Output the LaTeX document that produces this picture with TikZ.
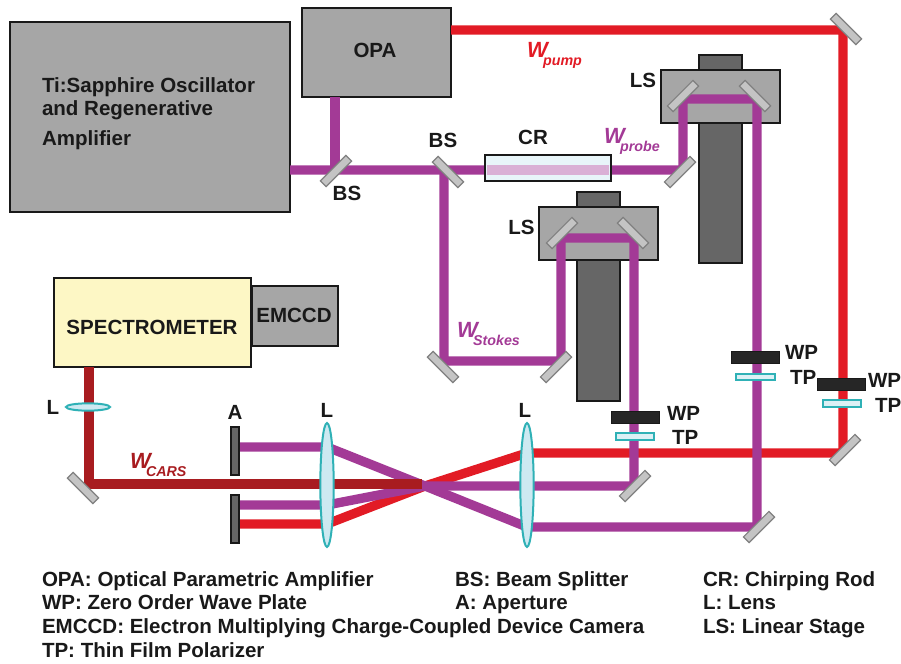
\documentclass[tikz,border=0pt]{standalone}
\usepackage{fontspec}
\setmainfont{Liberation Sans}
\usetikzlibrary{shapes.geometric}
\definecolor{pumpred}{HTML}{E21B25}
\definecolor{carsred}{HTML}{A81C20}
\definecolor{beampurple}{HTML}{A33A96}
\definecolor{boxgray}{HTML}{A6A6A6}
\definecolor{stagedark}{HTML}{666666}
\definecolor{mirrorgray}{HTML}{C4C4C4}
\definecolor{lensfill}{HTML}{CDE9F1}
\definecolor{lensedge}{HTML}{2FB1B6}
\definecolor{specyellow}{HTML}{FDF7C5}
\newcommand{\wsub}[1]{W\kern-3.5pt\lower 6.5pt\hbox{\fontsize{10.7}{12}\selectfont #1}}
\tikzstyle{every node}=[inner sep=0pt,outer sep=0pt,font=\fontsize{15.4}{18}\selectfont\bfseries,text=black!90]
\tikzstyle{box}=[draw=black!90,line width=1.5pt,shape=rectangle]
\tikzstyle{graybox}=[box,fill=boxgray]
\tikzstyle{darkbox}=[box,fill=stagedark]
\tikzstyle{mirror}=[shape=rectangle,draw=black!50,fill=mirrorgray,line width=0.9pt,minimum width=27pt,minimum height=6pt]
\tikzstyle{plate}=[shape=rectangle,draw=black!90,fill=black!85,line width=0.75pt,minimum width=36pt,minimum height=9pt]
\tikzstyle{polar}=[shape=rectangle,draw=lensedge,fill=lensfill!70,line width=1.5pt,minimum width=29pt,minimum height=5pt]
\tikzstyle{lens}=[shape=ellipse,draw=lensedge,fill=lensfill,line width=1.5pt,minimum width=10pt,minimum height=93pt]
\tikzstyle{smalllens}=[lens,minimum width=33pt,minimum height=5.5pt]
\tikzstyle{stop}=[box,fill=stagedark,line width=1pt,minimum width=6pt,minimum height=36pt]
\tikzstyle{wlabel}=[anchor=base west,font=\fontsize{16.5}{18}\selectfont\bfseries\itshape]
\tikzstyle{tag}=[anchor=base west]
\tikzstyle{beam}=[line width=7pt,line join=bevel]
\tikzstyle{pump}=[beam,draw=pumpred]
\tikzstyle{probe}=[beam,draw=beampurple]
\tikzstyle{cars}=[beam,draw=carsred]
\begin{document}
\begin{tikzpicture}[x=0.75pt,y=-0.75pt]
	\useasboundingbox (0,0) rectangle (901,664);

	\node[graybox,minimum width=210pt,minimum height=142.5pt] (laser) at (150,117) {};
	\node[graybox,minimum width=111.75pt,minimum height=66.75pt] (opa) at (376.5,52.5) {};
	\node[box,fill=specyellow,minimum width=147.75pt,minimum height=66.75pt] (spec) at (152.5,322.5) {};
	\node[graybox,minimum width=64.5pt,minimum height=45pt] (emccd) at (295,316) {};
	\node[darkbox,minimum width=32.25pt,minimum height=11.25pt] (stageAtop) at (720.5,62.5) {};
	\node[darkbox,minimum width=32.25pt,minimum height=105pt] (stageArail) at (720.5,193) {};
	\node[graybox,minimum width=89.25pt,minimum height=39.75pt] (stageA) at (720.5,96.5) {};
	\node[darkbox,minimum width=32.25pt,minimum height=11.25pt] (stageBtop) at (598.5,199.5) {};
	\node[darkbox,minimum width=32.25pt,minimum height=105.75pt] (stageBrail) at (598.5,330.5) {};
	\node[graybox,minimum width=89.25pt,minimum height=39.75pt] (stageB) at (598.5,233.5) {};

	\coordinate (p1) at (843,30);
	\coordinate (p2) at (843,453);
	\coordinate (p3) at (527,453);
	\coordinate (sA) at (335,170);
	\coordinate (sB) at (444,170);
	\coordinate (sC) at (444,361);
	\coordinate (sD) at (561,361);
	\coordinate (sE) at (561,238);
	\coordinate (sF) at (634,238);
	\coordinate (sG) at (634,486);
	\coordinate (sH) at (527,486);
	\coordinate (rA) at (683,170);
	\coordinate (rB) at (683,99);
	\coordinate (rC) at (757,99);
	\coordinate (rD) at (757,527);
	\coordinate (rE) at (527,527);
	\coordinate (focus) at (425,486);
	\coordinate (cA) at (89,484);
	\coordinate (cB) at (422,484);
	\coordinate (lA) at (327,447);
	\coordinate (lB) at (327,505);
	\coordinate (lC) at (327,524);
	\coordinate (aA) at (239,447);
	\coordinate (aB) at (239,505);
	\coordinate (aC) at (239,524);

	\draw[pump] (opa.east |- p1) -- (p1) -- (p2) -- (p3) -- (focus) -- (lC) -- (aC);
	\draw[probe] (laser.east |- sA) -- (rA) -- (rB) -- (rC) -- (rD) -- (rE) -- (focus) -- (lA) -- (aA);
	\draw[probe] (opa.south -| sA) -- (sA);
	\draw[probe] (sB) -- (sC) -- (sD) -- (sE) -- (sF) -- (sG) -- (sH) -- (focus) -- (lB) -- (aB);
	\draw[cars] (spec.south -| cA) -- (cA) -- (cB);

	\node[lens] (lensA) at (327,485) {};
	\node[lens] (lensB) at (527,485) {};
	\node[smalllens] (lensC) at (88,407) {};

	\node[box,fill=lensfill!45,minimum width=94.5pt,minimum height=19.5pt] (rod) at (547.5,167.5) {};
	\node[shape=rectangle,fill=beampurple!40,minimum width=91pt,minimum height=7pt] (rodbeam) at (548,170) {};

	\node[mirror,rotate=-45] (mirA) at (846,29) {};
	\node[mirror,rotate=45] (mirB) at (845,450) {};
	\node[mirror,rotate=45] (bsA) at (336,171) {};
	\node[mirror,rotate=-45] (bsB) at (448,172) {};
	\node[mirror,rotate=45] (mirC) at (680,172) {};
	\node[mirror,rotate=45] (mirD) at (683,96) {};
	\node[mirror,rotate=-45] (mirE) at (755,96) {};
	\node[mirror,rotate=45] (mirF) at (562,233) {};
	\node[mirror,rotate=-45] (mirG) at (633,233) {};
	\node[mirror,rotate=-45] (mirH) at (443,367) {};
	\node[mirror,rotate=45] (mirI) at (556,367) {};
	\node[mirror,rotate=45] (mirJ) at (635,486) {};
	\node[mirror,rotate=45] (mirK) at (759,527) {};
	\node[mirror,rotate=-45] (mirL) at (83,488) {};
	\node[stop] (stopA) at (235,451) {};
	\node[stop] (stopB) at (235,519) {};

	\node[plate] (wpA) at (635.5,417) {};
	\node[polar] (tpA) at (635,436.5) {};
	\node[plate] (wpB) at (755.5,357.5) {};
	\node[polar] (tpB) at (755.5,377) {};
	\node[plate] (wpC) at (841.5,384) {};
	\node[polar] (tpC) at (842,403.5) {};

	\node (opatag) at (375,50) {OPA};
	\node (spectag) at (152,327) {SPECTROMETER};
	\node (emccdtag) at (294,315) {EMCCD};
	\node[tag] (wpAtag) at (667,420) {WP};
	\node[tag] (tpAtag) at (672,444) {TP};
	\node[tag] (wpBtag) at (785,359) {WP};
	\node[tag] (tpBtag) at (790,384) {TP};
	\node[tag] (wpCtag) at (868,387) {WP};
	\node[tag] (tpCtag) at (875,412) {TP};
	\node (rodtag) at (533,137) {CR};
	\node (bsAtag) at (347,193) {BS};
	\node (bsBtag) at (443,140) {BS};
	\node (stageAtag) at (643,80) {LS};
	\node (stageBtag) at (521.5,227) {LS};
	\node (lensAtag) at (327,410) {L};
	\node (lensBtag) at (525,410) {L};
	\node (lensCtag) at (53,407) {L};
	\node (stoptag) at (235,412) {A};

	\node[wlabel,text=pumpred] (wpump) at (527,57) {\wsub{pump}};
	\node[wlabel,text=beampurple] (wprobe) at (604,143) {\wsub{probe}};
	\node[wlabel,text=beampurple] (wstokes) at (457,337) {\wsub{Stokes}};
	\node[wlabel,text=carsred] (wcars) at (130,468) {\wsub{CARS}};

	\node[tag] (laserA) at (42,92) {Ti:Sapphire Oscillator};
	\node[tag] (laserB) at (42,115) {and Regenerative};
	\node[tag] (laserC) at (42,145) {Amplifier};

	\node[tag] (keyA) at (42,586) {OPA: Optical Parametric Amplifier};
	\node[tag] (keyB) at (42,609) {WP: Zero Order Wave Plate};
	\node[tag] (keyC) at (42,633) {EMCCD: Electron Multiplying Charge-Coupled Device Camera};
	\node[tag] (keyD) at (42,657) {TP: Thin Film Polarizer};
	\node[tag] (keyE) at (455,586) {BS: Beam Splitter};
	\node[tag] (keyF) at (455,609) {A: Aperture};
	\node[tag] (keyG) at (703,586) {CR: Chirping Rod};
	\node[tag] (keyH) at (703,609) {L: Lens};
	\node[tag] (keyI) at (703,633) {LS: Linear Stage};
\end{tikzpicture}
\end{document}
